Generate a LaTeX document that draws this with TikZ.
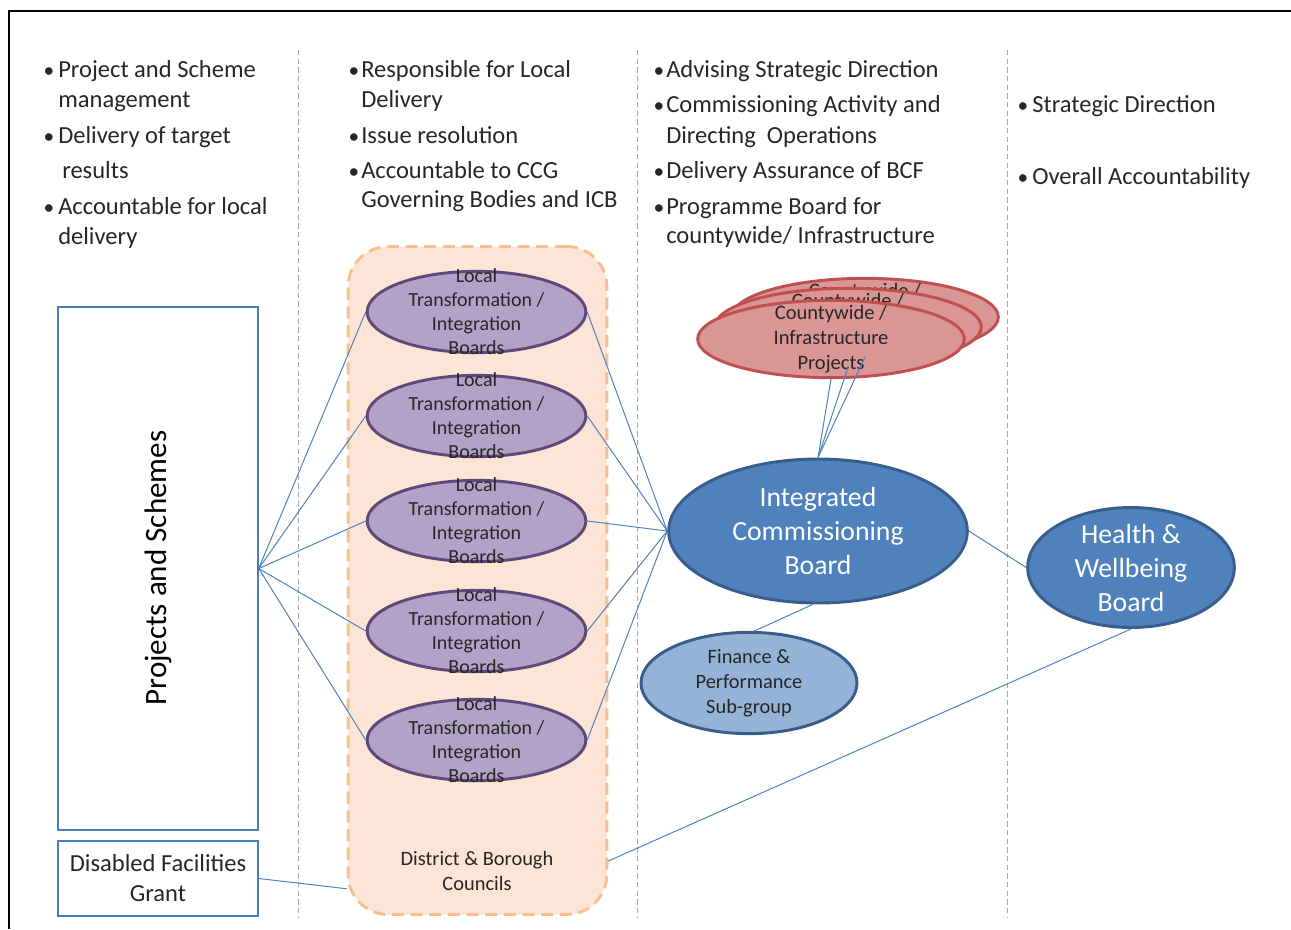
\documentclass[tikz,border=0pt]{standalone}
\usepackage{fontspec}
\setmainfont{Carlito}
\usetikzlibrary{shapes.geometric}
\definecolor{linkblue}{HTML}{4F81BD}
\definecolor{sepgray}{HTML}{A6A6A6}
\definecolor{purpfill}{HTML}{B3A2C7}
\definecolor{purpdark}{HTML}{5F497A}
\definecolor{orfill}{HTML}{FCE4D6}
\definecolor{ordraw}{HTML}{F9BF8F}
\definecolor{redfill}{HTML}{D99694}
\definecolor{reddraw}{HTML}{C0504D}
\definecolor{bluefill}{HTML}{4F81BD}
\definecolor{bluedark}{HTML}{385D8A}
\definecolor{lightblue}{HTML}{95B3D7}
\definecolor{boxblue}{HTML}{4A7EBB}
\tikzset{
  bt/.style={font=\fontsize{18.4}{22}\selectfont, inner sep=0pt, anchor=base west, text=black!85},
  bul/.style={font=\fontsize{16}{20}\selectfont, inner sep=0pt, anchor=base, text=black!85},
  link/.style={draw=linkblue, line width=0.75pt},
  sepline/.style={draw=sepgray, line width=0.75pt, dash pattern=on 4pt off 2.5pt},
  purp/.style={ellipse, draw=purpdark, fill=purpfill, line width=2.2pt, minimum width=164pt, minimum height=61pt, inner sep=0pt},
  purptxt/.style={align=center, font=\fontsize{15}{18}\selectfont, inner sep=0pt, text=black!85},
  redell/.style={ellipse, draw=reddraw, fill=redfill, line width=2.2pt, minimum width=200pt, minimum height=58pt, inner sep=0pt},
  redtxt/.style={align=center, font=\fontsize{15.4}{18.5}\selectfont, inner sep=0pt, text=black!85},
  bigblue/.style={ellipse, draw=bluedark, fill=bluefill, line width=2.2pt, inner sep=0pt},
  bigtxt/.style={align=center, font=\fontsize{20.8}{25.5}\selectfont, inner sep=0pt, text=white},
  smalltxt/.style={align=center, font=\fontsize{15.3}{18.6}\selectfont, inner sep=0pt, text=black!85},
  plainbox/.style={draw=boxblue, line width=1.1pt, inner sep=0pt},
}
\begin{document}
\begin{tikzpicture}[x=0.75pt, y=-0.75pt]
\useasboundingbox (0,0) rectangle (1291,929);
% frame
\draw[line width=1.5pt, black] (8,11) -- (1291,11);
\draw[line width=1.5pt, black] (9,11) -- (9,929);
% separators
\draw[sepline] (298,50) -- (298,918);
\draw[sepline] (637,50) -- (637,918);
\draw[sepline] (1007,50) -- (1007,918);
% column 1
\node[bul] (b11) at (49,77) {•};
\node[bt] (t11) at (58,77) {Project and Scheme};
\node[bt] (t12) at (58,107) {management};
\node[bul] (b12) at (49,143) {•};
\node[bt] (t13) at (58,143) {Delivery of target};
\node[bt] (t14) at (62,178) {results};
\node[bul] (b13) at (49,214) {•};
\node[bt] (t15) at (58,214) {Accountable for local};
\node[bt] (t16) at (58,244) {delivery};
% column 2
\node[bul] (b21) at (354,77) {•};
\node[bt] (t21) at (361,77) {Responsible for Local};
\node[bt] (t22) at (361,107) {Delivery};
\node[bul] (b22) at (354,143) {•};
\node[bt] (t23) at (361,143) {Issue resolution};
\node[bul] (b23) at (354,178) {•};
\node[bt] (t24) at (361,178) {Accountable to CCG};
\node[bt] (t25) at (361,207) {Governing Bodies and ICB};
% column 3
\node[bul] (b31) at (659,77) {•};
\node[bt] (t31) at (666,77) {Advising Strategic Direction};
\node[bul] (b32) at (659,112) {•};
\node[bt] (t32) at (666,112) {Commissioning Activity and};
\node[bt] (t33) at (666,143) {Directing\ \ Operations};
\node[bul] (b33) at (659,178) {•};
\node[bt] (t34) at (666,178) {Delivery Assurance of BCF};
\node[bul] (b34) at (659,214) {•};
\node[bt] (t35) at (666,214) {Programme Board for};
\node[bt] (t36) at (666,243) {countywide/ Infrastructure};
% column 4
\node[bul] (b41) at (1023,112) {•};
\node[bt] (t41) at (1032,112) {Strategic Direction};
\node[bul] (b42) at (1023,184) {•};
\node[bt] (t42) at (1032,184) {Overall Accountability};
% boxes on left
\node[plainbox, minimum width=150pt, minimum height=392pt] (proj) at (158,568.5) {};
\node[rotate=90, font=\fontsize{23.3}{28}\selectfont, inner sep=0pt] (projt) at (158,568) {Projects and Schemes};
\node[plainbox, minimum width=150pt, minimum height=56pt, align=center, font=\fontsize{18.4}{22.5}\selectfont, text=black!85] (dfg) at (158,878.5) {Disabled Facilities\\Grant};
% orange district box
\node[draw=ordraw, fill=orfill, line width=2.2pt, dash pattern=on 9pt off 5pt, rounded corners=30pt, minimum width=194pt, minimum height=501pt, inner sep=0pt] (dbc) at (477.5,580.5) {};
\node[smalltxt] (dbct) at (477,871) {District \& Borough\\Councils};
% purple ellipses
\foreach \i/\yy in {1/312, 2/416, 3/521, 4/631, 5/740} {
  \node[purp] (p\i) at (476.5,\yy) {};
  \node[purptxt] (pt\i) at (476.5,\yy) {Local\\Transformation /\\Integration\\Boards};
}
% red stacked ellipses
\node[redell] (r3) at (865,317) {};
\node[redtxt] (rt3) at (865,317) {Countywide /\\Infrastructure\\Projects};
\node[redell] (r2) at (848,327) {};
\node[redtxt] (rt2) at (848,327) {Countywide /\\Infrastructure\\Projects};
\node[redell] (r1) at (831,339) {};
\node[redtxt] (rt1) at (831,339) {Countywide /\\Infrastructure\\Projects};
% blue ellipses
\node[bigblue, minimum width=224pt, minimum height=108pt] (icb) at (818,531) {};
\node[bigtxt] (icbt) at (818,531) {Integrated\\Commissioning\\Board};
\node[bigblue, minimum width=155pt, minimum height=90pt] (hwb) at (1131,567.5) {};
\node[bigtxt] (hwbt) at (1131,568) {Health \&\\Wellbeing\\Board};
\node[ellipse, draw=bluedark, fill=lightblue, line width=2.2pt, inner sep=0pt, minimum width=162pt, minimum height=76pt] (fin) at (749,683) {};
\node[smalltxt] (fint) at (749,683) {Finance \&\\Performance\\Sub-group};
% connectors
\foreach \i in {1,...,5} {
  \draw[link] (proj.east) -- (p\i.west);
  \draw[link] (p\i.east) -- (icb.west);
}
\draw[link] (r1.south) -- (icb.north);
\draw[link] (r2.south) -- (icb.north);
\draw[link] (r3.south) -- (icb.north);
\draw[link] (icb.266) -- (fin.84);
\draw[link] (icb.east) -- (hwb.west);
\draw[link] (hwb.south) -- (dbc.295);
\draw[link] (dfg.east) -- (dbc.247);
\end{tikzpicture}
\end{document}
